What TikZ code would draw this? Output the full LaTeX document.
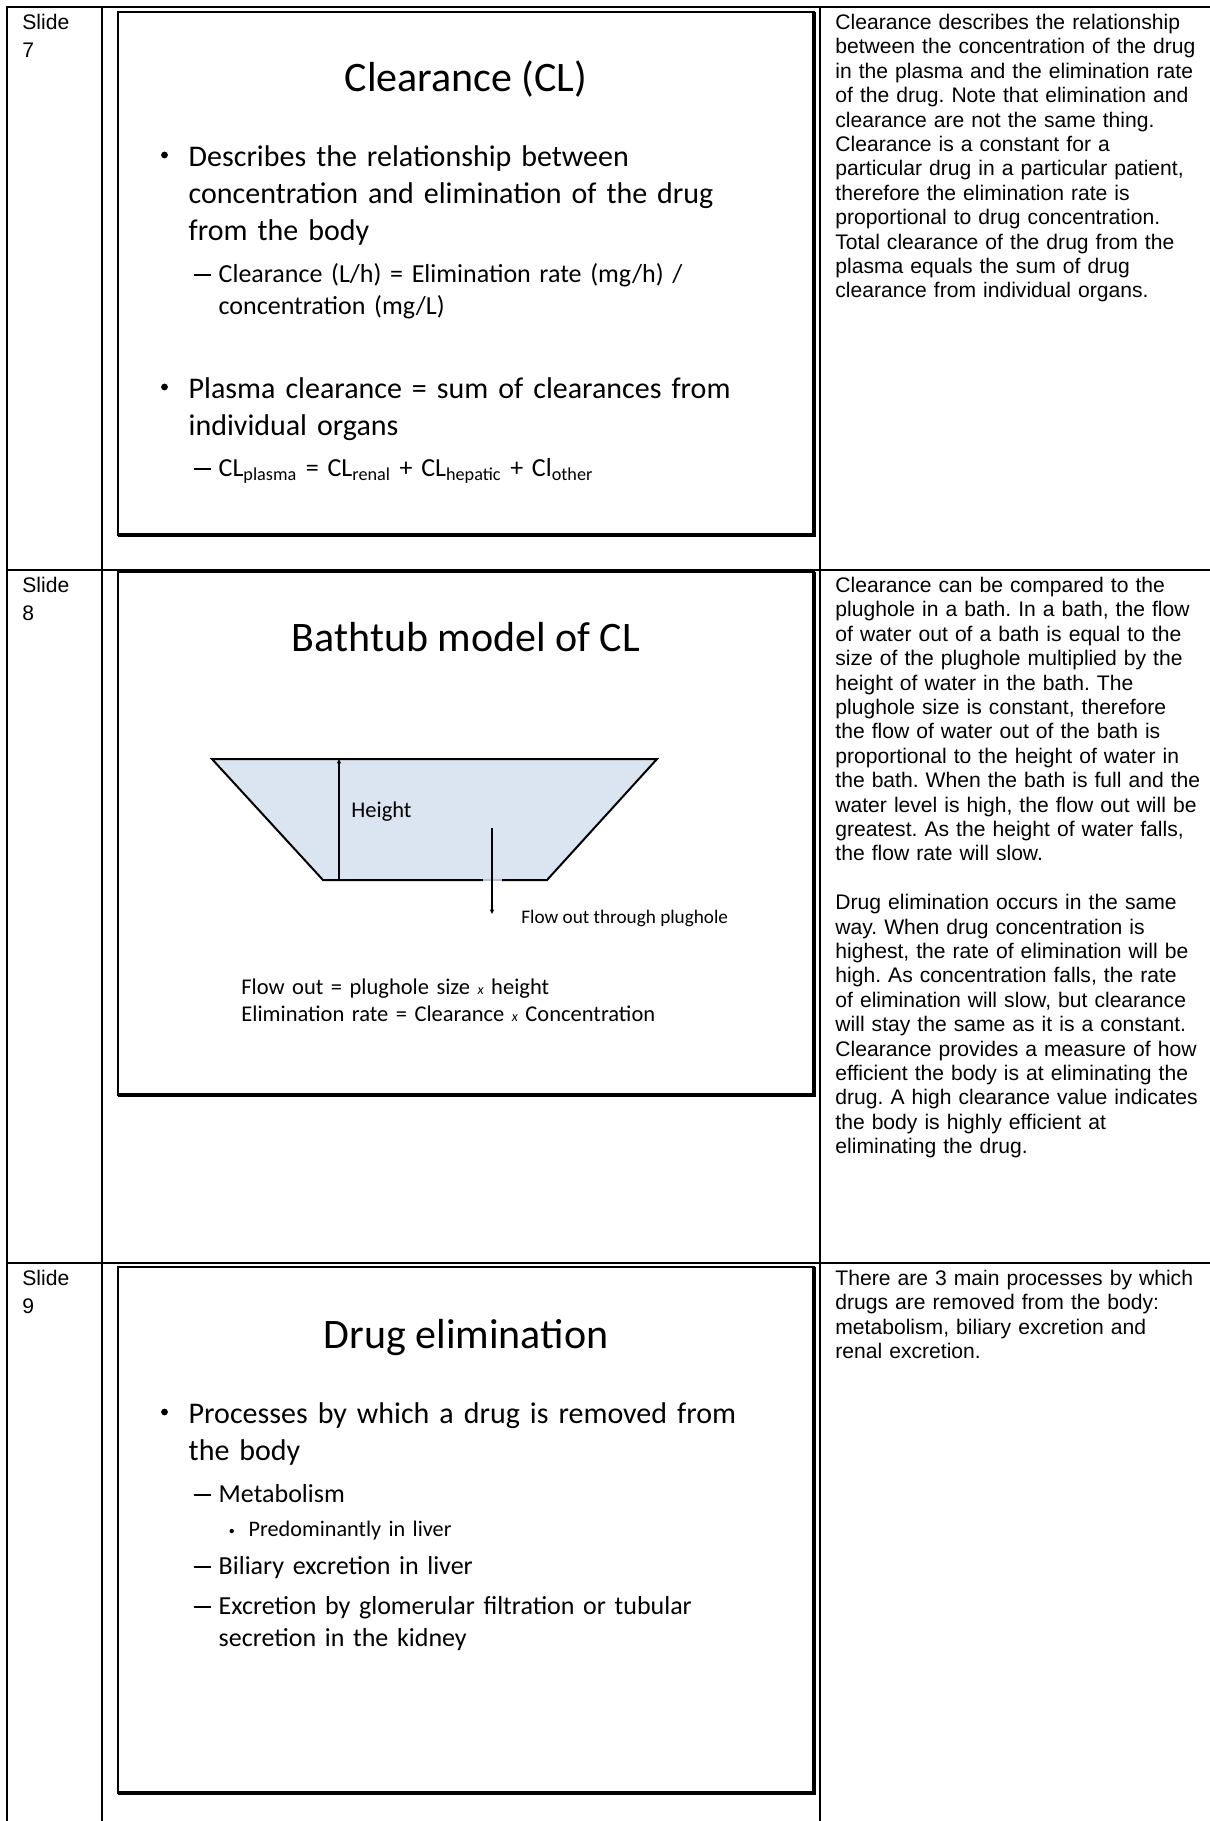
\documentclass[tikz,border=0pt]{standalone}
\usepackage{fontspec}
\setmainfont{Liberation Sans}
\newfontfamily\calibri{Carlito}
\usetikzlibrary{arrows.meta}
\frenchspacing

\definecolor{tubblue}{RGB}{219,229,241}
\definecolor{tubedge}{RGB}{180,192,208}

\newcommand\notefont{\fontsize{10.55pt}{12.2pt}\selectfont}
\newcommand\tagfont{\fontsize{10.55pt}{14pt}\selectfont}
\newcommand\headfont{\calibri\fontsize{21pt}{25.6pt}\selectfont}
\newcommand\levelone{\calibri\fontsize{15pt}{18.6pt}\selectfont}
\newcommand\leveltwo{\calibri\fontsize{13pt}{16pt}\selectfont}
\newcommand\levelthree{\calibri\fontsize{11.1pt}{13.3pt}\selectfont}
\newcommand\tubfont{\calibri\fontsize{11.25pt}{13.5pt}\selectfont}
\newcommand\tubsmall{\calibri\fontsize{9.6pt}{11.5pt}\selectfont}
\newcommand\timesx{{\fontsize{7pt}{8pt}\selectfont\itshape x}}
\newcommand\subdash{\rule[3.2pt]{8.5pt}{0.65pt}}

\begin{document}
\begin{tikzpicture}[
    x=0.5pt, y=-0.5pt,
    % Styles
    gridline/.style={line width=1pt, black},
    framethin/.style={line width=1pt, black},
    framethick/.style={line width=2pt, black},
    slidetag/.style={anchor=north west, inner sep=0pt, text width=40pt, align=left, font=\tagfont, execute at begin node=\strut},
    notetext/.style={anchor=north west, inner sep=0pt, text width=190pt, align=left, font=\notefont, execute at begin node=\strut},
    slidehead/.style={anchor=base, inner sep=0pt, font=\headfont},
    bigdot/.style={circle, fill=black, inner sep=0pt, minimum size=3.4pt},
    smalldot/.style={circle, fill=black, inner sep=0pt, minimum size=2.2pt},
    dashmark/.style={anchor=base west, inner sep=0pt, font=\leveltwo},
    lvlone/.style={anchor=north west, inner sep=0pt, text width=300pt, align=left, font=\levelone, execute at begin node=\strut},
    lvltwo/.style={anchor=north west, inner sep=0pt, text width=290pt, align=left, font=\leveltwo, execute at begin node=\strut},
    lvlthree/.style={anchor=north west, inner sep=0pt, text width=250pt, align=left, font=\levelthree, execute at begin node=\strut},
    tubtext/.style={anchor=north west, inner sep=0pt, text width=250pt, align=left, font=\tubfont, execute at begin node=\strut},
    tubline/.style={line width=1pt, black},
    gapline/.style={line width=1pt, tubedge},
    flowarrow/.style={-{Triangle[length=2.2pt,width=2pt]}, line width=0.7pt},
]

\path[use as bounding box, fill=white] (0,0) rectangle (1210,1821);

% Table
\draw[gridline] (1215,7) -- (7,7) -- (7,1830);
\draw[gridline] (102,7) -- (102,1830);
\draw[gridline] (819.5,7) -- (819.5,1830);
\draw[gridline] (7,570) -- (1215,570);
\draw[gridline] (7,1263) -- (1215,1263);

% ROW 1: Clearance
\begin{scope}[shift={(0,7)}]
    \node[slidetag] (tag7) at (22,2) {Slide\\7};

    % Slide frame
    \draw[framethin] (118,5) rectangle (814,528);
    \draw[framethick] (814,5) -- (814,528) -- (118,528);

    \node[slidehead] (head7) at (466,84) {Clearance (CL)};

    \node[bigdot] (dot7a) at (164.5,148) {};
    \node[lvlone] (pt7a) at (188.3,133) {Describes the relationship between\\concentration and elimination of the drug\\from the body};

    \node[dashmark] (dash7a) at (193.3,275) {\subdash};
    \node[lvltwo] (sub7a) at (218.3,252.6) {Clearance (L/h) = Elimination rate (mg/h) /\\concentration (mg/L)};

    \node[bigdot] (dot7b) at (164.5,380) {};
    \node[lvlone] (pt7b) at (188.3,365) {Plasma clearance = sum of clearances from\\individual organs};

    \node[dashmark] (dash7b) at (193.3,469) {\subdash};
    \node[lvltwo] (sub7b) at (218.3,446.6) {CL\textsubscript{plasma} = CL\textsubscript{renal} + CL\textsubscript{hepatic} + Cl\textsubscript{other}};

    % Notes
    \node[notetext] (notes7) at (835,5) {Clearance describes the relationship\\between the concentration of the drug\\in the plasma and the elimination rate\\of the drug. Note that elimination and\\clearance are not the same thing.\\Clearance is a constant for a\\particular drug in a particular patient,\\therefore the elimination rate is\\proportional to drug concentration.\\Total clearance of the drug from the\\plasma equals the sum of drug\\clearance from individual organs.};
\end{scope}

% ROW 2: Bathtub model
\begin{scope}[shift={(0,570)}]
    \node[slidetag] (tag8) at (22,2.4) {Slide\\8};

    % Slide frame
    \draw[framethin] (118,2) rectangle (814,525);
    \draw[framethick] (814,2) -- (814,525) -- (118,525);

    \node[slidehead] (head8) at (466,81) {Bathtub model of CL};

    % Bath
    \fill[tubblue] (212,189) -- (657,189) -- (547,310) -- (323,310) -- cycle;
    \draw[tubline] (502,310) -- (547,310) -- (657,189) -- (212,189) -- (323,310) -- (483,310);
    \draw[gapline] (483,310) -- (502,310);

    \coordinate (hbase) at (339,310);
    \coordinate (htop) at (339,189);
    \draw[flowarrow] (hbase) -- (htop);
    \node[anchor=base west, inner sep=0pt, font=\tubfont] (height) at (351,247) {Height};

    \coordinate (fstart) at (492,258);
    \coordinate (fend) at (492,344);
    \draw[flowarrow] (fstart) -- (fend);
    \node[anchor=base west, inner sep=0pt, font=\tubsmall] (flowout) at (521,353) {Flow out through plughole};

    \node[tubtext] (formula) at (241,405.1) {Flow out = plughole size \timesx{} height\\Elimination rate = Clearance \timesx{} Concentration};

    % Notes
    \node[notetext] (notes8) at (835,5) {Clearance can be compared to the\\plughole in a bath. In a bath, the flow\\of water out of a bath is equal to the\\size of the plughole multiplied by the\\height of water in the bath. The\\plughole size is constant, therefore\\the flow of water out of the bath is\\proportional to the height of water in\\the bath. When the bath is full and the\\water level is high, the flow out will be\\greatest. As the height of water falls,\\the flow rate will slow.\\[12.2pt]Drug elimination occurs in the same\\way. When drug concentration is\\highest, the rate of elimination will be\\high. As concentration falls, the rate\\of elimination will slow, but clearance\\will stay the same as it is a constant.\\Clearance provides a measure of how\\efficient the body is at eliminating the\\drug. A high clearance value indicates\\the body is highly efficient at\\eliminating the drug.};
\end{scope}

% ROW 3: Drug elimination
\begin{scope}[shift={(0,1263)}]
    \node[slidetag] (tag9) at (22,2.4) {Slide\\9};

    % Slide frame
    \draw[framethin] (118,4) rectangle (814,530);
    \draw[framethick] (814,4) -- (814,530) -- (118,530);

    \node[slidehead] (head9) at (466,85) {Drug elimination};

    \node[bigdot] (dot9a) at (164.5,149) {};
    \node[lvlone] (pt9a) at (188.3,134.3) {Processes by which a drug is removed from\\the body};

    \node[dashmark] (dash9a) at (193.3,239) {\subdash};
    \node[lvltwo] (sub9a) at (218.3,216.6) {Metabolism};

    \node[smalldot] (dot9b) at (231.7,268) {};
    \node[lvlthree] (subsub9) at (248.3,254.9) {Predominantly in liver};

    \node[dashmark] (dash9b) at (193.3,311) {\subdash};
    \node[lvltwo] (sub9b) at (218.3,288.6) {Biliary excretion in liver};

    \node[dashmark] (dash9c) at (193.3,351) {\subdash};
    \node[lvltwo] (sub9c) at (218.3,328.6) {Excretion by glomerular filtration or tubular\\secretion in the kidney};

    % Notes
    \node[notetext] (notes9) at (835,5) {There are 3 main processes by which\\drugs are removed from the body:\\metabolism, biliary excretion and\\renal excretion.};
\end{scope}

\end{tikzpicture}
\end{document}
